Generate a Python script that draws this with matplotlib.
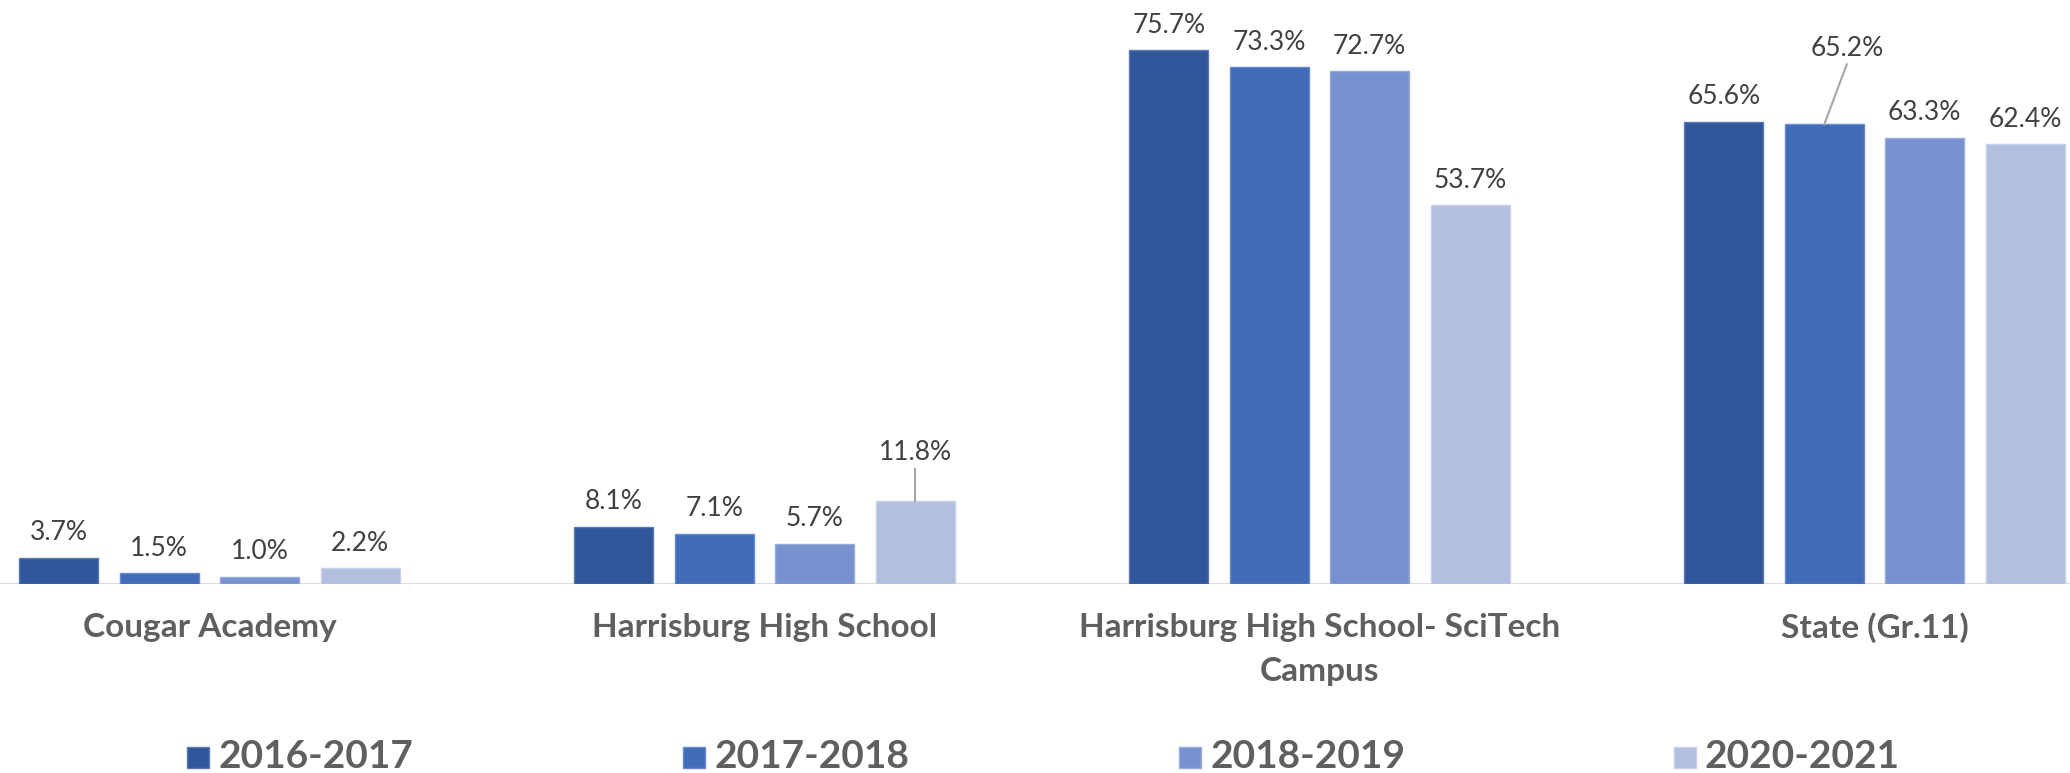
import matplotlib
matplotlib.use("Agg")
import matplotlib.pyplot as plt
import numpy as np

categories = ["Cougar Academy", "Harrisburg High School", "Harrisburg High School- SciTech\nCampus", "State (Gr.11)"]
series_names = ["2016-2017", "2017-2018", "2018-2019", "2020-2021"]
values = {
    "2016-2017": [3.7, 8.1, 75.7, 65.6],
    "2017-2018": [1.5, 7.1, 73.3, 65.2],
    "2018-2019": [1.0, 5.7, 72.7, 63.3],
    "2020-2021": [2.2, 11.8, 53.7, 62.4],
}
colors = ["#31579A", "#3F6BB8", "#7891CF", "#B3BFE0"]
edges = ["#5C7AB4", "#6A8BCB", "#98ACDC", "#C8D1EA"]

plt.rcParams['font.family'] = ['Lato', 'DejaVu Sans']

W, H = 2070, 773
fig = plt.figure(figsize=(W / 100, H / 100), dpi=100)
base_px = 584
top_px = 20
ax = fig.add_axes([0, (H - base_px) / H, 1, (base_px - top_px) / H])

cat_px = 555.0
center0 = 209.5
ax.set_xlim(-center0 / cat_px, (W - center0) / cat_px)
ax.set_ylim(0, 80)
px_per_y = (base_px - top_px) / 80.0

bar_w = 79 / cat_px
pitch = 100.5 / cat_px
x = np.arange(len(categories))

for j, name in enumerate(series_names):
    xs = x + (j - 1.5) * pitch
    ax.bar(xs, values[name], width=bar_w, color=colors[j], edgecolor=edges[j], linewidth=1.0, zorder=2)
    for i, v in enumerate(values[name]):
        label = f"{v:.1f}%"
        special = None
        if i == 1 and j == 3:
            special = (0.0, 48)
        if i == 3 and j == 1:
            special = (23 / cat_px, 76)
        if special is None:
            ax.annotate(label, (xs[i], v), xytext=(0, 25 * 0.72), textcoords="offset points",
                        ha="center", va="center", fontsize=19, color="#404040")
        else:
            dx, dy = special
            ty = v + dy / px_per_y
            ax.text(xs[i] + dx, ty, label, ha="center", va="center", fontsize=19, color="#404040")
            ax.plot([xs[i] + dx * 0.98, xs[i]], [ty - 16 / px_per_y, v], color="#A6A6A6", lw=1.5, zorder=3)

ax.axhline(0, color="#D9D9D9", lw=2, zorder=1)
for s in ax.spines.values():
    s.set_visible(False)
ax.set_yticks([])
ax.set_xticks([])

for i, c in enumerate(categories):
    lines = c.split("\n")
    for k, line in enumerate(lines):
        fig.text((center0 + i * cat_px) / W, 1 - (628 + 44 * k) / H, line, ha="center", va="center",
                 fontsize=24, fontweight="bold", color="#5F5F5F")

leg_x = [187, 683, 1179, 1674]
for j, name in enumerate(series_names):
    fig.patches.append(plt.Rectangle((leg_x[j] / W, 1 - 768 / H), 22 / W, 21 / H, transform=fig.transFigure,
                                     facecolor=colors[j], edgecolor=edges[j], lw=1))
    fig.text((leg_x[j] + 31) / W, 1 - 757 / H, name, ha="left", va="center", fontsize=28,
             fontweight="bold", color="#5F5F5F")

fig.savefig("out.png", dpi=100, facecolor="white")
